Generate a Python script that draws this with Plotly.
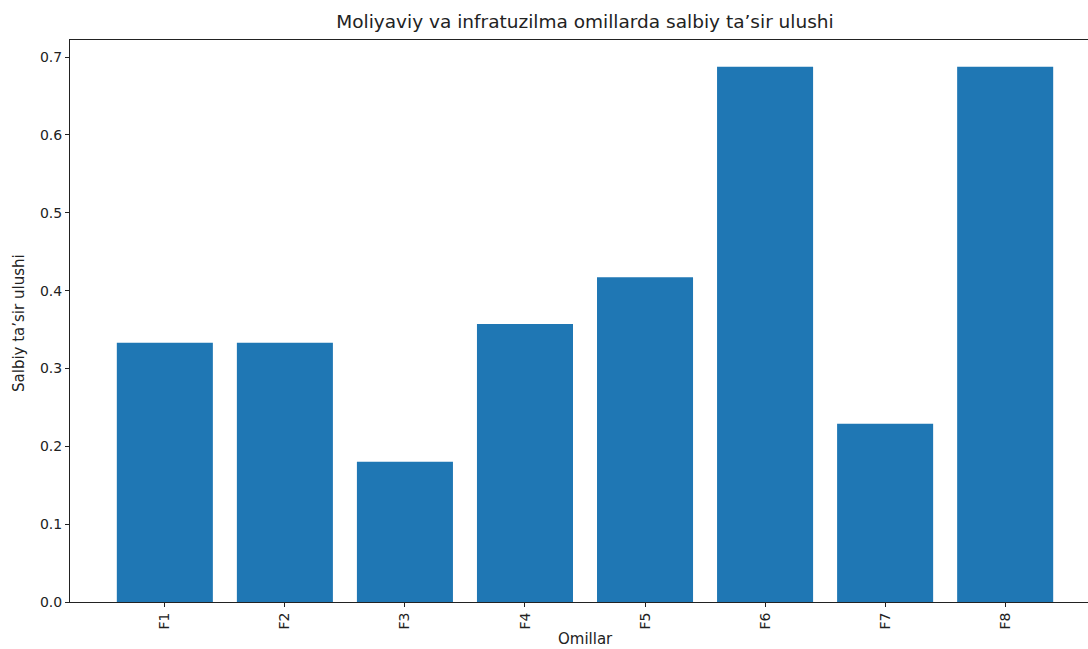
import plotly.graph_objects as go

categories = ["F1", "F2", "F3", "F4", "F5", "F6", "F7", "F8"]
values = [0.333, 0.333, 0.18, 0.357, 0.417, 0.6875, 0.229, 0.6875]
y_ticks = [0.0, 0.1, 0.2, 0.3, 0.4, 0.5, 0.6, 0.7]

W, H = 1088, 649
L, R, T, B = 70, 0, 40, 47

fig = go.Figure()
fig.add_trace(go.Bar(
    x=list(range(len(categories))), y=values,
    marker=dict(color="#1f77b4", line=dict(width=0)),
    width=0.8,
))

font = "DejaVu Sans"
fs = 15
tfs = 14
fig.update_layout(
    width=W, height=H,
    margin=dict(l=L, r=R, t=T, b=B, pad=0),
    paper_bgcolor="white", plot_bgcolor="white",
    showlegend=False,
    font=dict(family=font, size=fs, color="#222"),
    title=dict(text="Moliyaviy va infratuzilma omillarda salbiy ta’sir ulushi",
               font=dict(family=font, size=18.5, color="#222"),
               x=(L + 1100) / 2 / W, xanchor="center",
               y=1 - 22 / H, yanchor="middle", yref="container"),
    xaxis=dict(
        range=[-0.79, 7.69],
        tickmode="array", tickvals=list(range(len(categories))), ticktext=categories,
        tickangle=-90, ticks="outside", ticklen=4, tickcolor="#222",
        showline=True, linecolor="#222", linewidth=1, mirror=True,
        showgrid=False, zeroline=False,
        tickfont=dict(family=font, size=tfs, color="#222"),
    ),
    yaxis=dict(
        range=[0, 0.7219],
        tickmode="array", tickvals=y_ticks, ticktext=[f"{v:.1f}" for v in y_ticks],
        ticks="outside", ticklen=4, tickcolor="#222",
        showline=True, linecolor="#222", linewidth=1, mirror=False,
        showgrid=False, zeroline=False,
        tickfont=dict(family=font, size=tfs, color="#222"),
    ),
    annotations=[
        dict(text="Omillar", xref="paper", yref="paper",
             x=(585 - L) / (W - L - R), y=-(639 - 602) / (H - T - B),
             xanchor="center", yanchor="middle", showarrow=False,
             font=dict(family=font, size=fs, color="#222")),
        dict(text="Salbiy ta’sir ulushi", xref="paper", yref="paper",
             x=-(L - 19) / (W - L - R), y=(602 - 323) / (H - T - B),
             xanchor="center", yanchor="middle", showarrow=False, textangle=-90,
             font=dict(family=font, size=fs, color="#222")),
    ],
)

fig.write_html("out.html", config={"displayModeBar": False},
               post_script="document.body.style.margin='0';document.body.style.overflow='hidden';")
